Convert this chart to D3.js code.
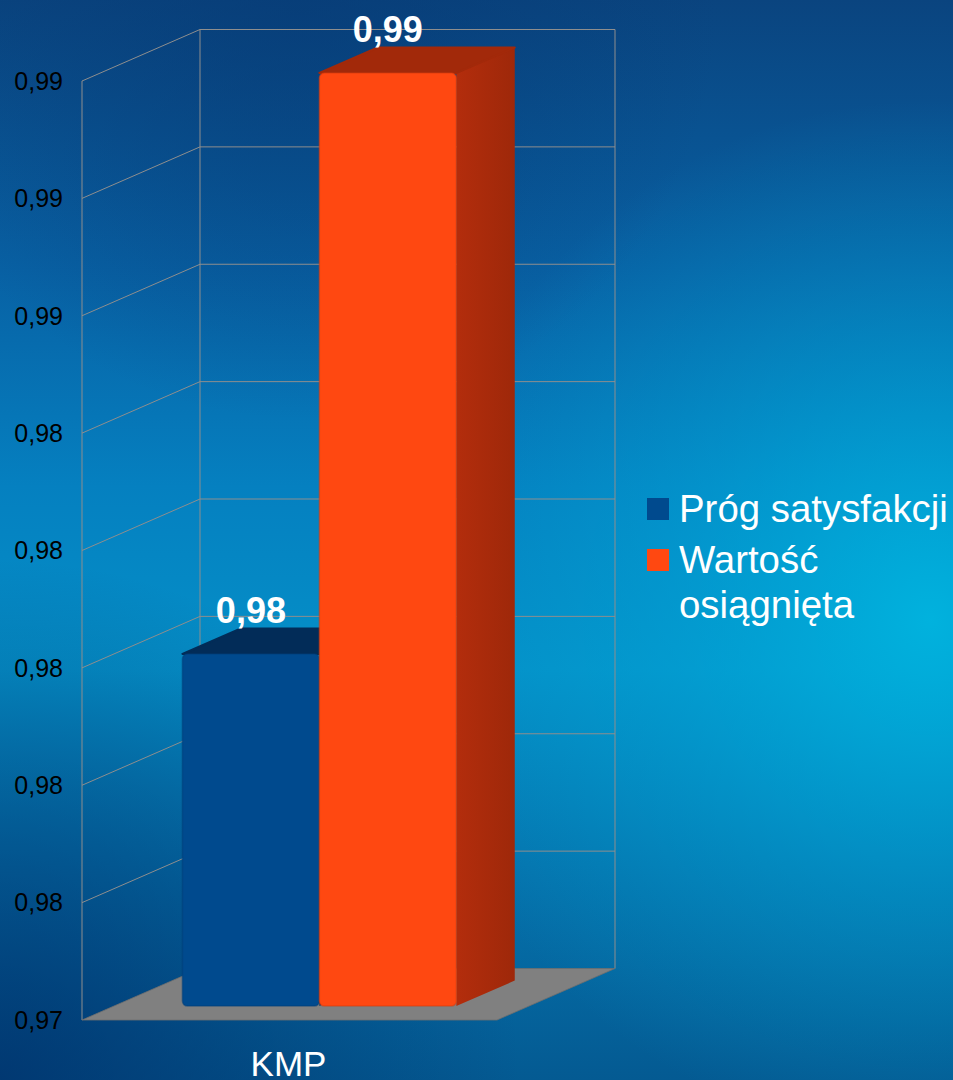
<!DOCTYPE html>
<html><head><meta charset="utf-8">
<script src="https://d3js.org/d3.v7.min.js"></script>
<style>html,body{margin:0;padding:0;overflow:hidden;background:#0a5a9a}</style>
</head><body>
<script>
const categories = ["KMP"];
const seriesNames = ["Próg satysfakcji", "Wartość osiągnięta"];
const seriesValues = [[0.98], [0.9899]];
const tickValues = [0.974, 0.976, 0.978, 0.980, 0.982, 0.984, 0.986, 0.988, 0.990];
const seriesColors = ["#004a8e", "#ff4811"];
const topColors = ["#022c58", "#a2290a"];
const sideColors = ["#01305f", "#aa2b0b"];

const W = 953, H = 1080;
const svg = d3.select("body").append("svg").attr("width", W).attr("height", H)
  .style("font-family", "'Liberation Sans', Arial, sans-serif");
const defs = svg.append("defs");

// background
const bg = defs.append("linearGradient").attr("id","bg").attr("x1",0).attr("y1",0).attr("x2",0).attr("y2",1);
[[0,"#0a447f"],[0.25,"#0861a4"],[0.45,"#0580c0"],[0.62,"#0590c8"],[0.8,"#0574ae"],[1,"#045a92"]]
  .forEach(([o,c])=>bg.append("stop").attr("offset",o).attr("stop-color",c));
svg.append("rect").attr("width",W).attr("height",H).attr("fill","url(#bg)");
const rg = defs.append("radialGradient").attr("id","hl").attr("gradientUnits","userSpaceOnUse")
  .attr("cx",930).attr("cy",620).attr("r",520);
[[0,"#00b6e0",0.9],[0.5,"#00a8d8",0.45],[1,"#00a0d0",0]].forEach(([o,c,a])=>rg.append("stop").attr("offset",o).attr("stop-color",c).attr("stop-opacity",a));
svg.append("rect").attr("width",W).attr("height",H).attr("fill","url(#hl)");
const rd = defs.append("radialGradient").attr("id","dk").attr("gradientUnits","userSpaceOnUse")
  .attr("cx",0).attr("cy",1080).attr("r",520);
[[0,"#00306a",0.8],[1,"#00306a",0]].forEach(([o,c,a])=>rd.append("stop").attr("offset",o).attr("stop-color",c).attr("stop-opacity",a));
svg.append("rect").attr("width",W).attr("height",H).attr("fill","url(#dk)");
const rt = defs.append("radialGradient").attr("id","dt").attr("gradientUnits","userSpaceOnUse")
  .attr("cx",300).attr("cy",0).attr("r",420);
[[0,"#063a75",0.6],[1,"#063a75",0]].forEach(([o,c,a])=>rt.append("stop").attr("offset",o).attr("stop-color",c).attr("stop-opacity",a));
svg.append("rect").attr("width",W).attr("height",H).attr("fill","url(#dt)");

// 3D projection
const frontLeft = 82, frontRight = 497;
const DX = 118, DY = -51.5;
const y = d3.scaleLinear().domain([tickValues[0], tickValues[tickValues.length-1]]).range([1020, 81]);
const xCat = d3.scaleBand().domain(categories).range([frontLeft, frontRight]);
const proj = (x, yy, f) => [x + f*DX, yy + f*DY];
const y0 = y(tickValues[0]);
const fmt = v => d3.format(".2f")(v).replace(".", ",");
const gridColor = "#8e8e8e";

// walls
const g = svg.append("g");
tickValues.forEach(t => {
  const a = proj(frontLeft, y(t), 0), b = proj(frontLeft, y(t), 1), c = proj(frontRight, y(t), 1);
  if (t !== tickValues[0]) {
    g.append("line").attr("x1",a[0]).attr("y1",a[1]).attr("x2",b[0]).attr("y2",b[1]).attr("stroke",gridColor).attr("stroke-width",1);
    g.append("line").attr("x1",b[0]).attr("y1",b[1]).attr("x2",c[0]).attr("y2",c[1]).attr("stroke",gridColor).attr("stroke-width",1);
  }
});
const yTop = y(tickValues[tickValues.length-1]);
[[frontLeft,0],[frontLeft,1],[frontRight,1]].forEach(([x,f])=>{
  const a = proj(x, yTop, f), b = proj(x, y0, f);
  g.append("line").attr("x1",a[0]).attr("y1",a[1]).attr("x2",b[0]).attr("y2",b[1]).attr("stroke",gridColor).attr("stroke-width",1);
});
// floor
const floorPts = [proj(frontLeft,y0,0), proj(frontRight,y0,0), proj(frontRight,y0,1), proj(frontLeft,y0,1)];
g.append("polygon").attr("points", floorPts.map(p=>p.join(",")).join(" "))
  .attr("fill","#808080").attr("stroke","#6f6f6f").attr("stroke-width",0.8);

// y axis labels
svg.append("g").selectAll("text").data(tickValues).join("text")
  .attr("x", 63).attr("y", d => y(d)).attr("dy","0.35em").attr("text-anchor","end")
  .attr("font-size", 25).attr("fill","#000").text(fmt);

// side gradients
sideColors.forEach((c,i)=>{
  const lg = defs.append("linearGradient").attr("id","side"+i).attr("x1",0).attr("y1",0).attr("x2",1).attr("y2",0);
  lg.append("stop").attr("offset",0).attr("stop-color", d3.color(c).brighter(0.15));
  lg.append("stop").attr("offset",1).attr("stop-color", d3.color(c).darker(0.2));
});

// bars
const f0 = 0.27, f1 = 0.765;
const bars = svg.append("g");
categories.forEach((cat, ci) => {
  const xs = d3.scaleBand().domain(seriesNames).range([xCat(cat), xCat(cat)+xCat.bandwidth()])
    .paddingOuter(0.515).align(0.486);
  seriesNames.forEach((s, si) => {
    const v = seriesValues[si][ci];
    const xl = xs(s), xr = xs(s) + xs.bandwidth();
    const yt = y(v);
    const FL = proj(xl, yt, f0), FR = proj(xr, yt, f0), BR = proj(xr, yt, f1), BL = proj(xl, yt, f1);
    const FRb = proj(xr, y0, f0), BRb = proj(xr, y0, f1), FLb = proj(xl, y0, f0);
    // side
    bars.append("polygon").attr("points",[FR,BR,BRb,FRb].map(p=>p.join(",")).join(" "))
      .attr("fill","url(#side"+si+")");
    // top
    bars.append("polygon").attr("points",[FL,FR,BR,BL].map(p=>p.join(",")).join(" "))
      .attr("fill", topColors[si]).attr("stroke", topColors[si]).attr("stroke-linejoin","round").attr("stroke-width",2);
    // front
    bars.append("rect").attr("x",FL[0]).attr("y",FL[1]).attr("width",FR[0]-FL[0]).attr("height",FLb[1]-FL[1])
      .attr("rx",5).attr("fill", seriesColors[si])
      .attr("stroke", d3.color(seriesColors[si]).darker(0.5)).attr("stroke-opacity",0.5).attr("stroke-width",1.5);
    // value label
    bars.append("text").attr("x",(FL[0]+FR[0])/2).attr("y",BL[1]-5).attr("text-anchor","middle")
      .attr("font-size",36).attr("font-weight","bold").attr("fill","#fff").text(fmt(v));
  });
  // category label
  svg.append("text").attr("x", xCat(cat)+xCat.bandwidth()/2 - 1).attr("y",1076).attr("text-anchor","middle")
    .attr("font-size",35).attr("fill","#fff").text(cat);
});

// legend
const legend = svg.append("g").attr("transform","translate(647,0)");
const legendRows = [{y:522, lines:[seriesNames[0]]}, {y:573, lines:["Wartość","osiągnięta"]}];
legendRows.forEach((r,i)=>{
  legend.append("rect").attr("x",0).attr("y",r.y-24).attr("width",22).attr("height",22).attr("fill",seriesColors[i]);
  const t = legend.append("text").attr("x",32).attr("y",r.y).attr("font-size",38.4).attr("fill","#fff");
  r.lines.forEach((l,j)=>t.append("tspan").attr("x",32).attr("dy", j===0?0:45).text(l));
});
</script>
</body></html>
